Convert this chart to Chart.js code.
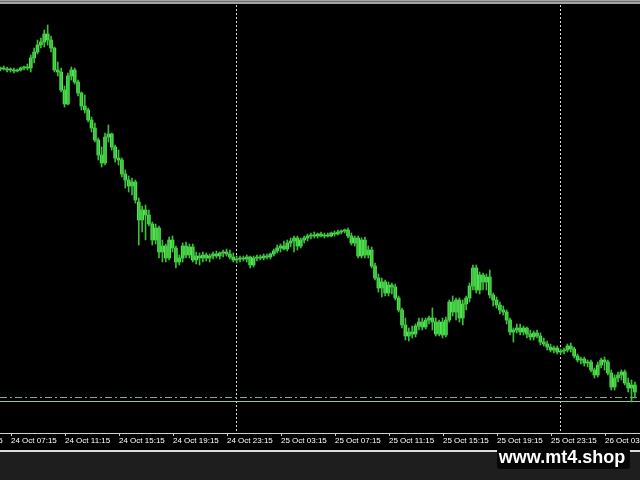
<!DOCTYPE html>
<html>
<head>
<meta charset="utf-8">
<script src="https://cdn.jsdelivr.net/npm/chart.js@4.4.1/dist/chart.umd.min.js"></script>
<style>
  html, body { margin: 0; padding: 0; background: #1c1c1c; }
  #wrap { width: 640px; height: 480px; position: relative; }
</style>
</head>
<body>
<div id="wrap"><canvas id="mtChart" width="640" height="480"></canvas></div>
<script>
// M15 bars, 24 Oct 06:30 .. 26 Oct 05:30 (price in chart points)
const openPrices = [
  431, 432, 431, 430, 430, 429, 430, 432, 433, 432, 442, 448, 455, 458, 466, 460, 452, 430, 428, 410,
  396, 424, 430, 418, 407, 394, 390, 380, 372, 360, 345, 337, 363, 366, 353, 342, 340, 326, 320, 314,
  318, 298, 280, 290, 285, 276, 260, 272, 248, 254, 242, 260, 252, 238, 242, 254, 245, 253, 240, 244,
  242, 245, 242, 244, 246, 244, 247, 248, 246, 243, 240, 241, 242, 241, 243, 235, 242, 243, 242, 244,
  243, 246, 249, 252, 254, 251, 257, 259, 262, 254, 260, 262, 264, 265, 264, 266, 264, 265, 264, 267,
  266, 268, 269, 270, 264, 257, 262, 244, 260, 245, 250, 234, 222, 212, 218, 207, 215, 213, 202, 190,
  175, 164, 168, 166, 174, 178, 173, 180, 182, 178, 166, 178, 165, 180, 198, 188, 200, 182, 196, 202,
  214, 232, 210, 225, 218, 223, 205, 200, 195, 190, 188, 180, 168, 170, 172, 168, 172, 166, 163, 167,
  164, 158, 156, 153, 150, 152, 148, 149, 150, 154, 151, 144, 140, 141, 137, 138, 130, 125, 135, 140,
  138, 127, 113, 122, 125, 128, 117, 112, 115
];
const highPrices = [
  433, 434, 433, 432, 432, 431, 433, 434, 436, 445, 452, 460, 462, 470, 475, 464, 453, 438, 432, 414,
  427, 433, 432, 420, 408, 405, 392, 383, 377, 362, 353, 367, 375, 367, 355, 350, 342, 330, 324, 322,
  320, 302, 294, 295, 290, 278, 276, 274, 260, 256, 263, 264, 254, 245, 257, 258, 256, 256, 248, 247,
  248, 247, 246, 248, 249, 248, 250, 251, 250, 247, 244, 244, 244, 245, 244, 244, 245, 245, 246, 246,
  247, 251, 255, 256, 259, 260, 262, 264, 264, 262, 264, 266, 267, 268, 267, 268, 267, 267, 268, 269,
  270, 270, 271, 272, 267, 264, 264, 262, 263, 254, 253, 237, 226, 222, 220, 218, 217, 216, 204, 192,
  182, 172, 174, 176, 182, 182, 182, 184, 192, 182, 180, 182, 183, 200, 204, 202, 202, 200, 204, 217,
  235, 235, 228, 227, 226, 230, 207, 203, 198, 194, 190, 182, 172, 176, 176, 174, 173, 170, 169, 170,
  167, 162, 159, 156, 154, 154, 151, 152, 156, 157, 153, 146, 143, 143, 140, 140, 132, 138, 142, 143,
  140, 130, 125, 128, 130, 130, 122, 120, 118
];
const lowPrices = [
  429, 430, 428, 428, 427, 428, 429, 430, 430, 428, 437, 446, 452, 453, 455, 448, 428, 424, 408, 393,
  395, 420, 416, 404, 390, 387, 378, 368, 358, 340, 333, 335, 358, 350, 338, 335, 323, 312, 308, 305,
  297, 255, 268, 260, 274, 255, 256, 242, 238, 238, 240, 248, 232, 235, 238, 242, 242, 238, 236, 235,
  238, 239, 238, 241, 242, 241, 243, 244, 241, 238, 237, 238, 239, 238, 232, 233, 239, 240, 240, 241,
  241, 244, 247, 248, 250, 249, 253, 248, 250, 252, 257, 259, 261, 262, 262, 263, 262, 263, 263, 264,
  265, 266, 267, 262, 255, 254, 242, 242, 242, 242, 232, 220, 208, 203, 204, 204, 206, 200, 188, 172,
  160, 159, 162, 163, 170, 170, 171, 176, 170, 164, 164, 162, 163, 178, 184, 180, 178, 175, 190, 198,
  210, 207, 206, 210, 210, 202, 194, 192, 186, 185, 176, 165, 158, 167, 165, 165, 162, 160, 160, 162,
  155, 154, 150, 148, 147, 146, 146, 146, 148, 148, 142, 138, 136, 134, 133, 128, 122, 123, 132, 130,
  125, 110, 110, 118, 120, 115, 108, 98, 102
];
const closePrices = [
  432, 431, 430, 430, 429, 430, 432, 433, 432, 442, 448, 455, 458, 466, 460, 452, 430, 428, 410, 396,
  424, 430, 418, 407, 394, 390, 380, 372, 360, 345, 337, 363, 366, 353, 342, 340, 326, 320, 314, 318,
  300, 280, 290, 285, 276, 260, 272, 248, 254, 242, 260, 252, 238, 242, 254, 245, 253, 240, 244, 242,
  245, 242, 244, 246, 244, 247, 248, 246, 243, 240, 241, 242, 241, 243, 235, 242, 243, 242, 244, 243,
  246, 249, 252, 254, 251, 257, 259, 262, 254, 260, 262, 264, 265, 264, 266, 264, 265, 264, 267, 266,
  268, 269, 270, 264, 257, 262, 244, 260, 245, 250, 234, 222, 212, 218, 207, 215, 213, 202, 190, 175,
  164, 168, 166, 174, 178, 173, 180, 182, 178, 166, 178, 165, 180, 198, 188, 200, 182, 196, 202, 214,
  232, 210, 225, 218, 223, 205, 200, 195, 190, 188, 180, 168, 170, 172, 168, 172, 166, 163, 167, 164,
  158, 156, 153, 150, 152, 148, 149, 150, 154, 151, 144, 140, 141, 137, 138, 130, 125, 135, 140, 138,
  127, 113, 122, 125, 128, 117, 112, 115, 108
];

// time axis: bar index -> label
const tickIndex = [-13, 3, 19, 35, 51, 67, 83, 99, 115, 131, 147, 163, 179];
const tickLabels = [
  "24 Oct 03:15", "24 Oct 07:15", "24 Oct 11:15", "24 Oct 15:15", "24 Oct 19:15", "24 Oct 23:15",
  "25 Oct 03:15", "25 Oct 07:15", "25 Oct 11:15", "25 Oct 15:15", "25 Oct 19:15", "25 Oct 23:15",
  "26 Oct 03:15"
];
const daySeparators = [70, 166];
const dashDotLevel = 103.5;
const bidLevel = 99.5;

const wickData = openPrices.map((o, i) => ({ x: i, y: [lowPrices[i], highPrices[i]] }));
const bodyData = openPrices.map((o, i) => ({ x: i, y: [o, closePrices[i]] }));

const mt4Frame = {
  id: "mt4Frame",
  beforeDraw(chart) {
    const { ctx } = chart;
    ctx.save();
    ctx.fillStyle = "#000";
    ctx.fillRect(0, 0, 640, 451);
    ctx.fillStyle = "#1e1e1e";
    ctx.fillRect(0, 451, 640, 29);
    // window edge on top
    ctx.fillStyle = "#a4a4a4";
    ctx.fillRect(0, 0, 640, 4);
    ctx.fillStyle = "#6c6c6c";
    ctx.fillRect(0, 1, 640, 1);
    ctx.restore();
  },
  beforeDatasetsDraw(chart) {
    const { ctx, scales } = chart;
    const area = chart.chartArea;
    ctx.save();
    // day separators
    ctx.strokeStyle = "#d8d8d8";
    ctx.lineWidth = 1;
    ctx.setLineDash([2, 2]);
    daySeparators.forEach((idx) => {
      const x = Math.round(scales.x.getPixelForValue(idx)) - 0.5;
      ctx.beginPath();
      ctx.moveTo(x, area.top);
      ctx.lineTo(x, area.bottom);
      ctx.stroke();
    });
    // order level (dash-dot) and bid line
    let y = Math.round(scales.y.getPixelForValue(dashDotLevel)) + 0.5;
    ctx.strokeStyle = "#7fae8a";
    ctx.setLineDash([7, 3, 2, 3]);
    ctx.beginPath();
    ctx.moveTo(0, y);
    ctx.lineTo(640, y);
    ctx.stroke();
    y = Math.round(scales.y.getPixelForValue(bidLevel)) + 0.5;
    ctx.strokeStyle = "#8fc4a4";
    ctx.setLineDash([]);
    ctx.beginPath();
    ctx.moveTo(0, y);
    ctx.lineTo(640, y);
    ctx.stroke();
    ctx.restore();
  },
  afterDraw(chart) {
    const { ctx, scales } = chart;
    const area = chart.chartArea;
    ctx.save();
    // time axis
    ctx.fillStyle = "#cfcfcf";
    ctx.fillRect(0, Math.round(area.bottom), 640, 1);
    ctx.font = "8px 'Liberation Sans', Arial, sans-serif";
    ctx.textAlign = "left";
    ctx.textBaseline = "middle";
    tickIndex.forEach((idx, k) => {
      const x = Math.round(scales.x.getPixelForValue(idx));
      ctx.fillStyle = "#cfcfcf";
      ctx.fillRect(x, Math.round(area.bottom), 1, 3);
      ctx.fillStyle = "#ffffff";
      ctx.fillText(tickLabels[k], x, area.bottom + 8);
    });
    ctx.fillStyle = "#dcdcdc";
    ctx.fillRect(0, 450, 640, 2);
    // watermark
    ctx.fillStyle = "#060606";
    ctx.beginPath();
    ctx.roundRect(497, 448, 133, 21, 3);
    ctx.fill();
    ctx.fillStyle = "#ffffff";
    ctx.font = "bold 18px 'Liberation Sans', Arial, sans-serif";
    ctx.textAlign = "center";
    ctx.textBaseline = "alphabetic";
    ctx.fillText("www.mt4.shop", 562, 463);
    ctx.restore();
  },
};

new Chart(document.getElementById("mtChart"), {
  type: "bar",
  data: {
    datasets: [
      {
        label: "wick",
        data: wickData,
        backgroundColor: "#3cbf3c",
        barThickness: 1,
        grouped: false,
        borderWidth: 0,
      },
      {
        label: "body",
        data: bodyData,
        backgroundColor: "#55e655",
        barThickness: 3,
        minBarLength: 1,
        grouped: false,
        borderWidth: 0,
      },
    ],
  },
  options: {
    responsive: false,
    animation: false,
    devicePixelRatio: 1,
    layout: { padding: { top: 5, bottom: 47, left: 0, right: 0 } },
    scales: {
      x: {
        type: "linear",
        display: false,
        offset: false,
        min: -0.1185,
        max: 189.51,
      },
      y: {
        type: "linear",
        display: false,
        min: 67,
        max: 495,
      },
    },
    plugins: {
      legend: { display: false },
      tooltip: { enabled: false },
    },
  },
  plugins: [mt4Frame],
});
</script>
</body>
</html>
